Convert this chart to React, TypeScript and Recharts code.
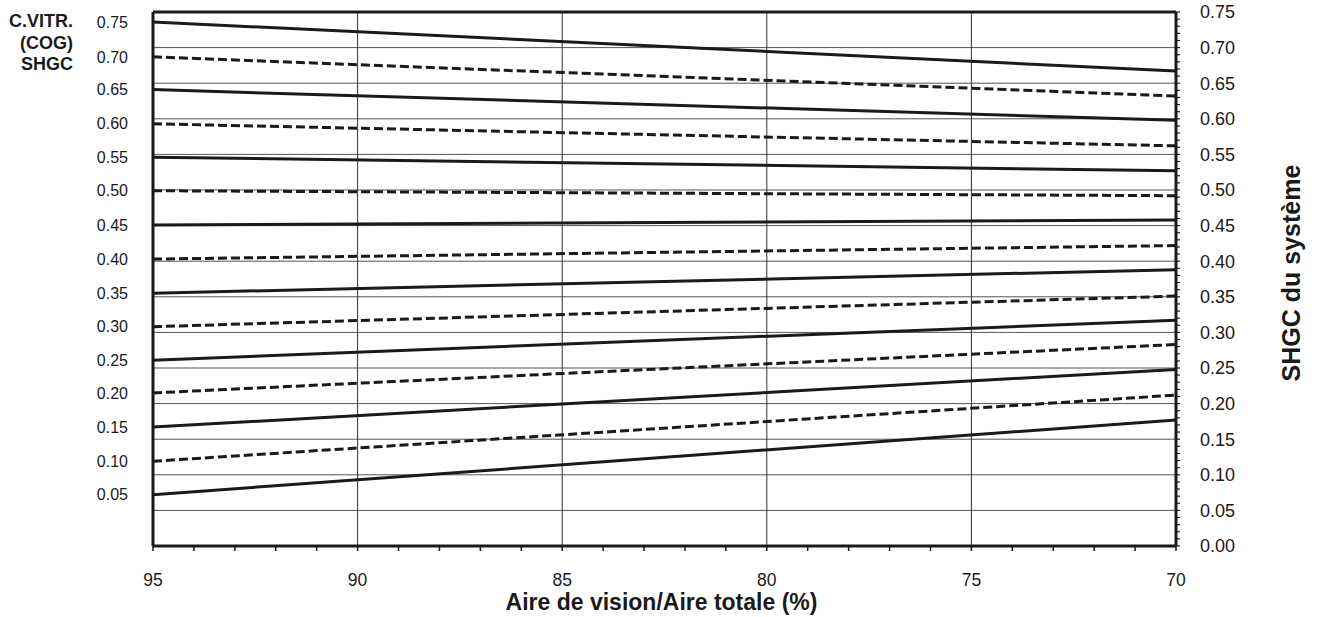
import { LineChart, Line, XAxis, YAxis, ReferenceLine, Label } from 'recharts'

// COG SHGC of each curve (left labels)
const cogLabels = ['0.75', '0.70', '0.65', '0.60', '0.55', '0.50', '0.45', '0.40', '0.35', '0.30', '0.25', '0.20', '0.15', '0.10', '0.05']
// system SHGC at 95 % vision area
const sysAt95 = [0.736, 0.687, 0.641, 0.593, 0.546, 0.499, 0.451, 0.403, 0.355, 0.308, 0.261, 0.215, 0.167, 0.119, 0.072]
// system SHGC at 70 % vision area
const sysAt70 = [0.667, 0.632, 0.598, 0.562, 0.527, 0.492, 0.458, 0.422, 0.388, 0.351, 0.317, 0.283, 0.248, 0.212, 0.177]

const visionRatio = [95, 70]
const xMajor = [95, 90, 85, 80, 75, 70]
const yMajor = [0, 0.05, 0.1, 0.15, 0.2, 0.25, 0.3, 0.35, 0.4, 0.45, 0.5, 0.55, 0.6, 0.65, 0.7, 0.75]

const xMinor = Array.from({ length: 26 }, (_, i) => 70 + i)
const yMinor = Array.from({ length: 76 }, (_, i) => i / 100)

const data = visionRatio.map((x, xi) => {
  const row: Record<string, number> = { x }
  cogLabels.forEach((_, i) => {
    row['c' + i] = xi === 0 ? sysAt95[i] : sysAt70[i]
  })
  return row
})

const INK = '#1a1a1a'
const FONT = '"Liberation Sans", Arial, sans-serif'

function cogLabelFor(v: number) {
  let best = 0
  sysAt95.forEach((s, j) => {
    if (Math.abs(s - v) < Math.abs(sysAt95[best] - v)) best = j
  })
  return cogLabels[best]
}

export default function App() {
  return (
    <div style={{ position: 'absolute', left: 0, top: 0, background: '#fff', fontFamily: FONT }}>
      <LineChart width={1317} height={617} data={data} margin={{ top: 12, right: 0, left: 0, bottom: 0 }}>
        <XAxis
          dataKey="x"
          type="number"
          domain={[70, 95]}
          reversed
          ticks={xMinor}
          interval={0}
          height={71}
          tickFormatter={(v: number) => (v % 5 === 0 ? String(v) : '')}
          tick={{ fill: INK, fontSize: 17.5, fontFamily: FONT }}
          tickSize={5}
          tickMargin={23}
          axisLine={{ stroke: INK, strokeWidth: 3 }}
          tickLine={{ stroke: INK, strokeWidth: 1.5 }}
        >
          <Label
            content={({ viewBox }: any) => (
              <text
                x={viewBox.x + viewBox.width / 2 - 3}
                y={viewBox.y + 64}
                textAnchor="middle"
                fill={INK}
                fontFamily={FONT}
                fontWeight="bold"
                fontSize={23}
              >
                Aire de vision/Aire totale (%)
              </text>
            )}
          />
        </XAxis>
        <YAxis
          yAxisId="cog"
          orientation="left"
          type="number"
          domain={[0, 0.75]}
          width={153}
          ticks={sysAt95}
          interval={0}
          tickFormatter={(v: number) => cogLabelFor(v)}
          tick={{ fill: INK, fontSize: 16, fontFamily: FONT }}
          tickSize={0}
          tickMargin={25}
          tickLine={false}
          axisLine={{ stroke: INK, strokeWidth: 3 }}
        >
          <Label
            content={() => (
              <text textAnchor="end" fill={INK} fontFamily={FONT} fontWeight="bold" fontSize={18}>
                <tspan x={73} y={27}>C.VITR.</tspan>
                <tspan x={73} y={49}>(COG)</tspan>
                <tspan x={73} y={70}>SHGC</tspan>
              </text>
            )}
          />
        </YAxis>
        <YAxis
          yAxisId="sys"
          orientation="right"
          type="number"
          domain={[0, 0.75]}
          width={141}
          ticks={yMinor}
          interval={0}
          tickFormatter={(v: number) => (Math.round(v * 100) % 5 === 0 ? v.toFixed(2) : '')}
          tick={{ fill: INK, fontSize: 18, fontFamily: FONT }}
          tickSize={4}
          tickMargin={20}
          axisLine={{ stroke: INK, strokeWidth: 3 }}
          tickLine={{ stroke: INK, strokeWidth: 1.2 }}
        >
          <Label
            content={({ viewBox }: any) => {
              const cx = viewBox.x + 124
              const cy = viewBox.y + viewBox.height / 2 - 6
              return (
                <text
                  x={cx}
                  y={cy}
                  transform={`rotate(-90 ${cx} ${cy})`}
                  textAnchor="middle"
                  fill={INK}
                  fontFamily={FONT}
                  fontWeight="bold"
                  fontSize={25}
                >
                  SHGC du système
                </text>
              )
            }}
          />
        </YAxis>

        {yMajor.slice(1, -1).map((v) => (
          <ReferenceLine key={'h' + v} yAxisId="sys" y={v} stroke="#555" strokeWidth={1} />
        ))}
        {xMajor.slice(1, -1).map((v) => (
          <ReferenceLine key={'v' + v} yAxisId="sys" x={v} stroke="#333" strokeWidth={1} />
        ))}
        <ReferenceLine yAxisId="sys" y={0.75} stroke={INK} strokeWidth={3} />

        {/* invisible twin so the left (COG) axis is bound to a series */}
        <Line yAxisId="cog" dataKey="c0" stroke="none" dot={false} activeDot={false} isAnimationActive={false} />

        {cogLabels.map((lab, i) => (
          <Line
            key={lab}
            yAxisId="sys"
            dataKey={'c' + i}
            type="linear"
            stroke={INK}
            strokeWidth={3}
            strokeDasharray={i % 2 === 1 ? '9 4' : undefined}
            dot={false}
            activeDot={false}
            isAnimationActive={false}
          />
        ))}
      </LineChart>
    </div>
  )
}
